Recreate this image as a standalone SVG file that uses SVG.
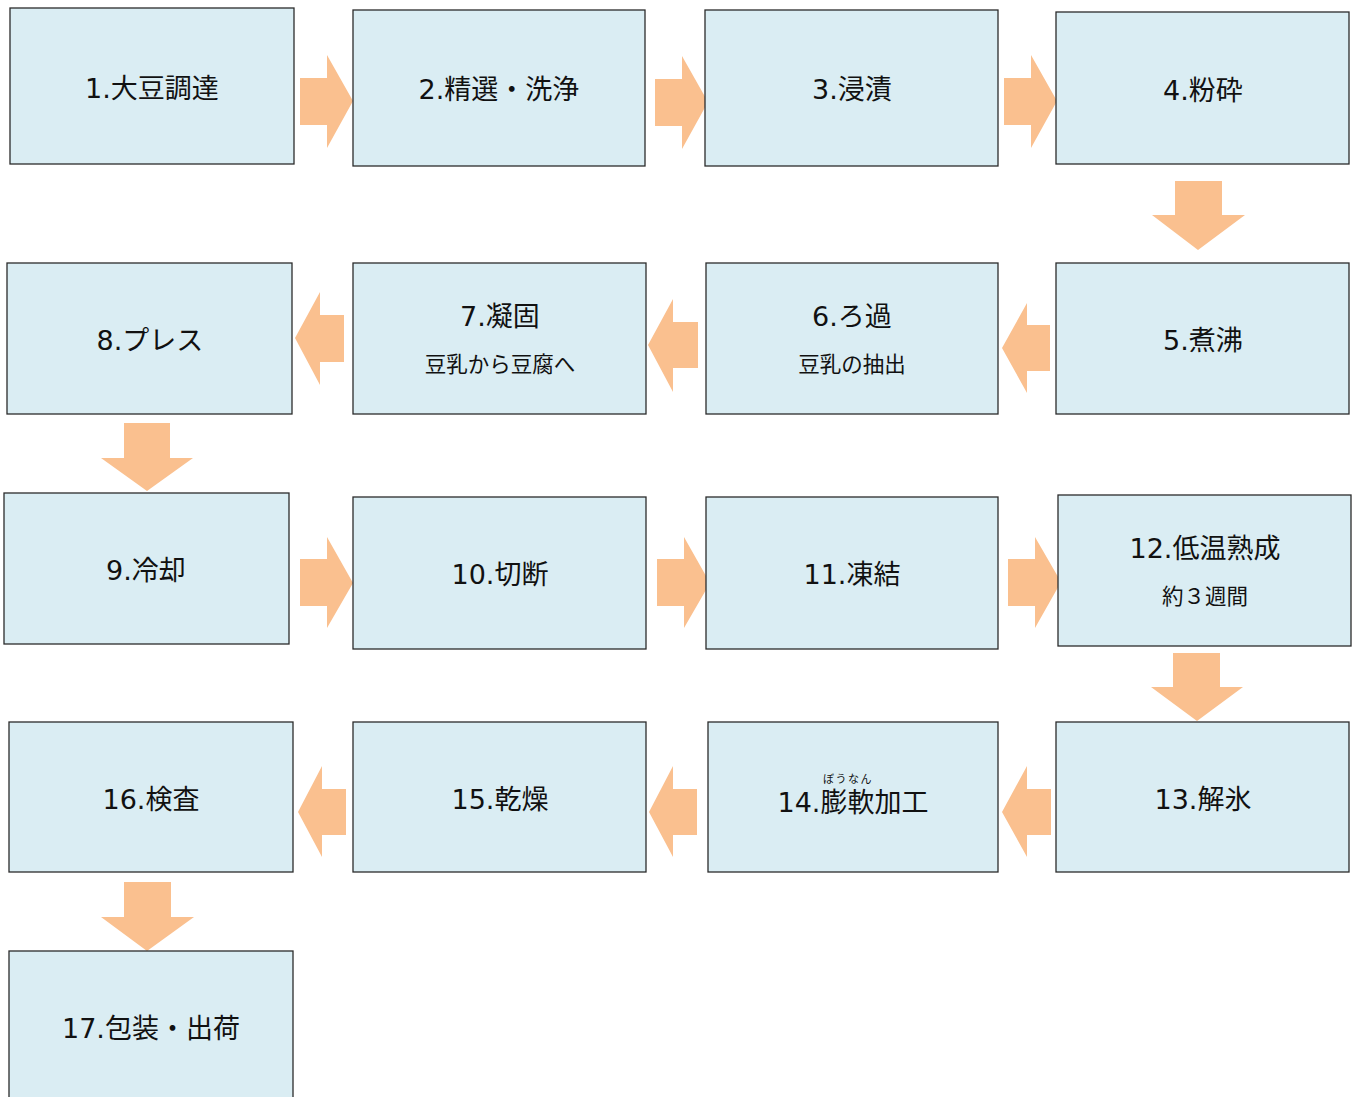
<svg xmlns="http://www.w3.org/2000/svg" width="1360" height="1097" viewBox="0 0 1360 1097">
<style>
.box{fill:#DAEDF3;stroke:#2b2b2b;stroke-width:1.3}
.arr{fill:#FAC08F}
text{font-family:"DejaVu Sans","Noto Sans CJK JP",sans-serif;fill:#111;text-anchor:middle;dominant-baseline:central}
.t{font-size:27px}
.s{font-size:21.5px}
.r{font-size:11px}
</style>
<rect width="1360" height="1097" fill="#fff"/>
<g id="connectors">
<polygon class="arr" points="300,78 327,78 327,55 353,101 327,148 327,125 300,125"/>
<polygon class="arr" points="655,79 682,79 682,56 708,102 682,149 682,126 655,126"/>
<polygon class="arr" points="1004,78 1031,78 1031,55 1057,101 1031,148 1031,125 1004,125"/>
<polygon class="arr" points="1175,181 1222,181 1222,215 1245,215 1198,250 1152,215 1175,215"/>
<polygon class="arr" points="1050,325 1027,325 1027,303 1002,348 1027,393 1027,371 1050,371"/>
<polygon class="arr" points="698,322 673,322 673,299 648,345 673,392 673,368 698,368"/>
<polygon class="arr" points="344,315 320,315 320,292 295,338 320,385 320,362 344,362"/>
<polygon class="arr" points="124,423 170,423 170,458 193,458 147,491 101,458 124,458"/>
<polygon class="arr" points="300,559 327,559 327,537 353,583 327,628 327,606 300,606"/>
<polygon class="arr" points="657,559 684,559 684,537 710,583 684,628 684,606 657,606"/>
<polygon class="arr" points="1008,559 1035,559 1035,537 1061,582 1035,628 1035,606 1008,606"/>
<polygon class="arr" points="1173,653 1220,653 1220,687 1243,687 1197,721 1151,687 1173,687"/>
<polygon class="arr" points="1051,789 1027,789 1027,766 1002,812 1027,857 1027,835 1051,835"/>
<polygon class="arr" points="697,789 673,789 673,766 649,812 673,857 673,835 697,835"/>
<polygon class="arr" points="346,789 322,789 322,766 298,812 322,857 322,835 346,835"/>
<polygon class="arr" points="124,882 171,882 171,917 194,917 147,951 101,917 124,917"/>
</g>
<g id="n1"><rect class="box" x="10" y="8" width="284" height="156"/><text class="t" x="152" y="88">1.大豆調達</text></g>
<g id="n2"><rect class="box" x="353" y="10" width="292" height="156"/><text class="t" x="499" y="89">2.精選・洗浄</text></g>
<g id="n3"><rect class="box" x="705" y="10" width="293" height="156"/><text class="t" x="852" y="89">3.浸漬</text></g>
<g id="n4"><rect class="box" x="1056" y="12" width="293" height="152"/><text class="t" x="1203" y="90">4.粉砕</text></g>
<g id="n5"><rect class="box" x="1056" y="263" width="293" height="151"/><text class="t" x="1203" y="340">5.煮沸</text></g>
<g id="n6"><rect class="box" x="706" y="263" width="292" height="151"/><text class="t" x="852" y="316">6.ろ過</text><text class="s" x="852" y="364">豆乳の抽出</text></g>
<g id="n7"><rect class="box" x="353" y="263" width="293" height="151"/><text class="t" x="500" y="316">7.凝固</text><text class="s" x="500" y="364">豆乳から豆腐へ</text></g>
<g id="n8"><rect class="box" x="7" y="263" width="285" height="151"/><text class="t" x="150" y="340">8.プレス</text></g>
<g id="n9"><rect class="box" x="4" y="493" width="285" height="151"/><text class="t" x="146" y="570">9.冷却</text></g>
<g id="n10"><rect class="box" x="353" y="497" width="293" height="152"/><text class="t" x="500" y="574">10.切断</text></g>
<g id="n11"><rect class="box" x="706" y="497" width="292" height="152"/><text class="t" x="852" y="574">11.凍結</text></g>
<g id="n12"><rect class="box" x="1058" y="495" width="293" height="151"/><text class="t" x="1205" y="548">12.低温熟成</text><text class="s" x="1205" y="596">約３週間</text></g>
<g id="n13"><rect class="box" x="1056" y="722" width="293" height="150"/><text class="t" x="1203" y="799">13.解氷</text></g>
<g id="n14"><rect class="box" x="708" y="722" width="290" height="150"/><text class="t" x="853" y="802">14.膨軟加工</text><text class="r" x="848" y="779" letter-spacing="1.5">ぼうなん</text></g>
<g id="n15"><rect class="box" x="353" y="722" width="293" height="150"/><text class="t" x="500" y="799">15.乾燥</text></g>
<g id="n16"><rect class="box" x="9" y="722" width="284" height="150"/><text class="t" x="151" y="799">16.検査</text></g>
<g id="n17"><rect class="box" x="9" y="951" width="284" height="152"/><text class="t" x="151" y="1028">17.包装・出荷</text></g>
</svg>
